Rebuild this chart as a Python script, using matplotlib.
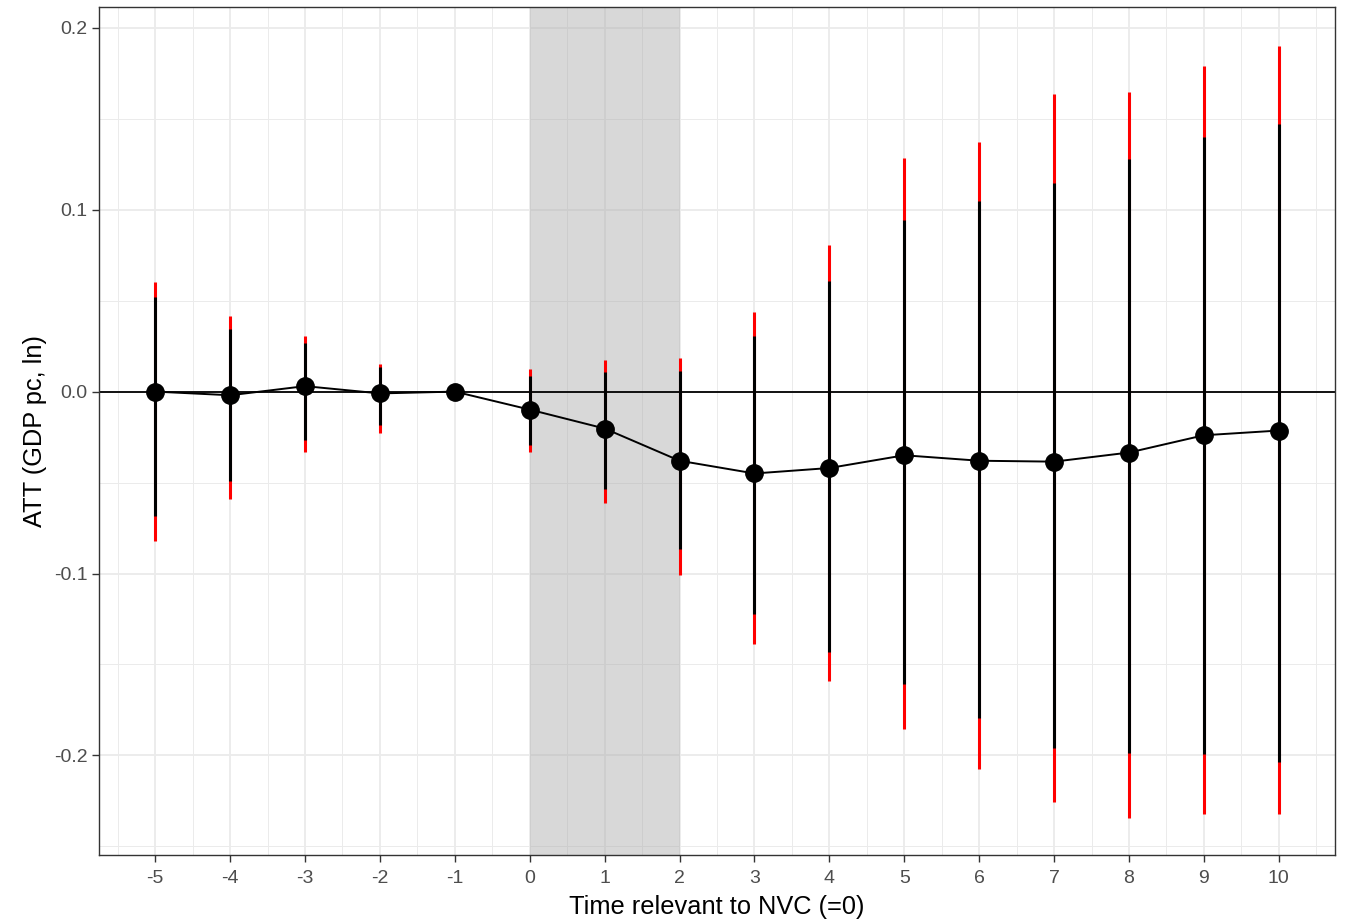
#!/usr/bin/env python3
"""Event-study ATT plot with pointwise (black) and uniform (red) bands."""
import matplotlib

matplotlib.use("Agg")

import matplotlib.pyplot as plt
import numpy as np
from matplotlib.ticker import MultipleLocator

plt.rcParams["font.family"] = ["Liberation Sans", "DejaVu Sans"]

# event time relative to NVC
periods = [-5, -4, -3, -2, -1, 0, 1, 2, 3, 4, 5, 6, 7, 8, 9, 10]
att = [0.000, -0.002, 0.003, -0.001, 0.000, -0.0099, -0.0203, -0.038, -0.045,
       -0.042, -0.035, -0.038, -0.0385, -0.0335, -0.024, -0.0214]

# pointwise confidence band (black)
pw_low = [-0.0685, -0.0493, -0.0267, -0.0181, np.nan, -0.0291, -0.0535, -0.0863,
          -0.1225, -0.1429, -0.1607, -0.1794, -0.1958, -0.1985, -0.1991, -0.2038]
pw_high = [0.052, 0.0346, 0.0266, 0.0136, np.nan, 0.0084, 0.0106, 0.0112,
           0.0308, 0.061, 0.0945, 0.1046, 0.1146, 0.1278, 0.1399, 0.1469]

# uniform (simultaneous) confidence band (red)
un_low = [-0.0823, -0.059, -0.0332, -0.0227, np.nan, -0.0333, -0.0612, -0.101,
          -0.1385, -0.1588, -0.1857, -0.2074, -0.2256, -0.2342, -0.232, -0.232]
un_high = [0.060, 0.0414, 0.0304, 0.0152, np.nan, 0.0126, 0.0176, 0.0185,
           0.044, 0.0808, 0.1284, 0.1372, 0.1634, 0.1647, 0.1789, 0.190]

shade_span = (0, 2)

fig = plt.figure(figsize=(13.46, 9.22), dpi=100)
ax = fig.add_axes([0.0736, 0.0727, 0.9182, 0.9197])

x = np.array(periods, dtype=float)
ax.axvspan(*shade_span, facecolor="#adadad", alpha=0.47, lw=0, zorder=1)
ax.axhline(0, color="black", lw=1.3, zorder=2)
ax.vlines(x, un_low, un_high, color="#ff0000", lw=2.2, zorder=3)
ax.vlines(x, pw_low, pw_high, color="black", lw=2.2, zorder=4)
ax.plot(x, att, color="black", lw=1.4, zorder=5)
ax.plot(x, att, "o", color="black", ms=12.5, zorder=6)

ax.set_xlim(-5.75, 10.75)
ax.set_ylim(-0.2547, 0.2114)
ax.set_xticks(periods)
ax.set_xticklabels([str(p) for p in periods])
ax.xaxis.set_minor_locator(MultipleLocator(0.5))
ax.set_yticks([-0.2, -0.1, 0.0, 0.1, 0.2])
ax.set_yticklabels(["-0.2", "-0.1", "0.0", "0.1", "0.2"])
ax.yaxis.set_minor_locator(MultipleLocator(0.05))

ax.grid(True, which="major", color="#ebebeb", lw=1.3, zorder=0)
ax.grid(True, which="minor", color="#ebebeb", lw=0.7, zorder=0)
ax.set_axisbelow(True)

for sp in ax.spines.values():
    sp.set_color("#333333")
    sp.set_linewidth(1.0)
ax.tick_params(which="major", length=5, width=1.0, color="#333333",
               labelcolor="#4d4d4d", labelsize=14)
ax.tick_params(axis="x", pad=5.5)
ax.tick_params(axis="y", pad=3.5)
ax.tick_params(which="minor", length=0)

ax.set_xlabel("Time relevant to NVC (=0)", fontsize=18.3, labelpad=6)
ax.set_ylabel("ATT (GDP pc, ln)", fontsize=18.3, labelpad=5)

fig.savefig("out.png", dpi=100)
plt.close(fig)
